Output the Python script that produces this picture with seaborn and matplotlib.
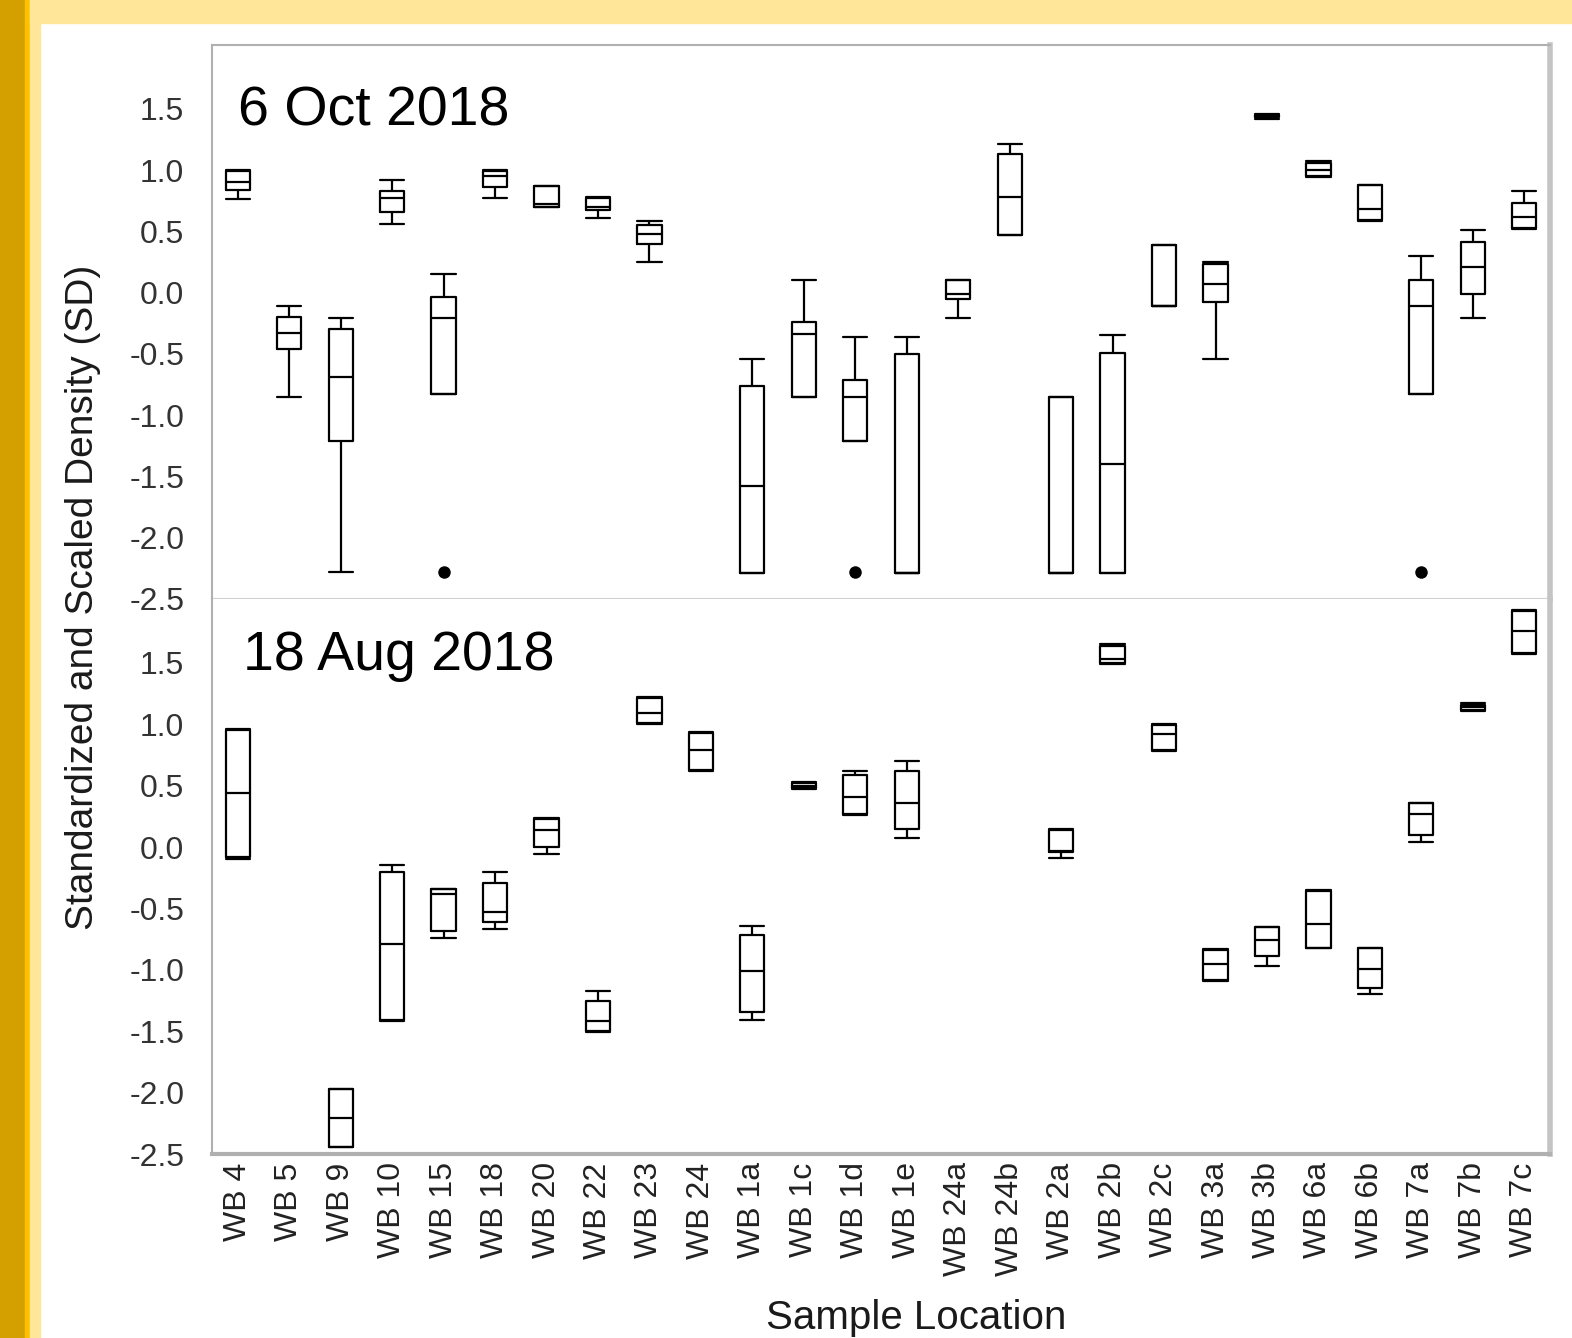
import numpy as np
import pandas as pd
import matplotlib
matplotlib.use("Agg")
import matplotlib.pyplot as plt
from matplotlib.patches import Rectangle
import seaborn as sns

# Sample locations along the shared x axis
locations = ["WB 4", "WB 5", "WB 9", "WB 10", "WB 15", "WB 18", "WB 20", "WB 22",
             "WB 23", "WB 24", "WB 1a", "WB 1c", "WB 1d", "WB 1e", "WB 24a", "WB 24b",
             "WB 2a", "WB 2b", "WB 2c", "WB 3a", "WB 3b", "WB 6a", "WB 6b", "WB 7a",
             "WB 7b", "WB 7c"]

# 6 Oct 2018: five-number summaries (lower whisker, Q1, median, Q3, upper whisker)
oct_lo  = [0.76, -0.85, -2.28, 0.56, -0.83, 0.77, 0.70, 0.61, 0.25, None, -2.29, -0.85,
           -1.21, -2.29, -0.21, 0.47, -2.29, -2.29, -0.11, -0.54, 1.42, 0.94, 0.58, -0.83,
           -0.21, 0.52]
oct_q1  = [0.84, -0.46, -1.21, 0.66, -0.83, 0.86, 0.70, 0.67, 0.40, None, -2.29, -0.85,
           -1.21, -2.29, -0.05, 0.47, -2.29, -2.29, -0.11, -0.08, 1.43, 0.95, 0.59, -0.83,
           -0.01, 0.53]
oct_med = [0.90, -0.33, -0.69, 0.77, -0.21, 0.95, 0.72, 0.70, 0.48, None, -1.58, -0.34,
           -0.85, -2.29, -0.01, 0.78, -2.29, -1.40, -0.11, 0.07, 1.44, 1.00, 0.68, -0.11,
           0.21, 0.62]
oct_q3  = [0.99, -0.20, -0.30, 0.83, -0.04, 0.99, 0.87, 0.77, 0.55, None, -0.76, -0.24,
           -0.71, -0.50, 0.10, 1.13, -0.85, -0.49, 0.39, 0.23, 1.45, 1.06, 0.88, 0.10,
           0.41, 0.73]
oct_hi  = [1.00, -0.11, -0.21, 0.92, 0.15, 1.00, 0.87, 0.78, 0.58, None, -0.54, 0.10,
           -0.36, -0.36, 0.10, 1.21, -0.85, -0.35, 0.39, 0.25, 1.46, 1.07, 0.88, 0.30,
           0.51, 0.83]
oct_outlier_loc = ["WB 15", "WB 1d", "WB 7a"]
oct_outlier_val = [-2.28, -2.28, -2.28]

# 18 Aug 2018
aug_lo  = [-0.10, None, -2.44, -1.42, -0.74, -0.67, -0.06, -1.51, 1.00, 0.62, -1.41, 0.47,
           0.26, 0.07, None, None, -0.09, 1.49, 0.78, -1.09, -0.97, -0.82, -1.20, 0.04,
           1.11, 1.57]
aug_q1  = [-0.08, None, -2.44, -1.41, -0.68, -0.61, 0.00, -1.50, 1.01, 0.63, -1.34, 0.48,
           0.27, 0.15, None, None, -0.04, 1.50, 0.79, -1.08, -0.89, -0.82, -1.15, 0.10,
           1.12, 1.58]
aug_med = [0.44, None, -2.21, -0.79, -0.38, -0.53, 0.14, -1.42, 1.09, 0.79, -1.01, 0.50,
           0.41, 0.36, None, None, -0.03, 1.53, 0.92, -0.95, -0.76, -0.63, -0.99, 0.27,
           1.14, 1.76]
aug_q3  = [0.95, None, -1.97, -0.20, -0.34, -0.29, 0.23, -1.25, 1.21, 0.93, -0.72, 0.52,
           0.59, 0.62, None, None, 0.14, 1.64, 0.99, -0.84, -0.65, -0.36, -0.82, 0.36,
           1.16, 1.92]
aug_hi  = [0.96, None, -1.97, -0.15, -0.34, -0.20, 0.24, -1.17, 1.22, 0.94, -0.64, 0.53,
           0.62, 0.70, None, None, 0.15, 1.65, 1.00, -0.83, -0.65, -0.35, -0.82, 0.36,
           1.17, 1.93]

date_top = "6 Oct 2018"
date_bottom = "18 Aug 2018"
ytick_values = [-2.5, -2.0, -1.5, -1.0, -0.5, 0.0, 0.5, 1.0, 1.5]


def long_form(lo, q1, med, q3, hi):
    rows = []
    for loc, five in zip(locations, zip(lo, q1, med, q3, hi)):
        if five[0] is None:
            continue
        for v in five:
            rows.append((loc, v))
    return pd.DataFrame(rows, columns=["location", "density"])


df_oct = long_form(oct_lo, oct_q1, oct_med, oct_q3, oct_hi)
df_aug = long_form(aug_lo, aug_q1, aug_med, aug_q3, aug_hi)

sns.set_style("white")
plt.rcParams["font.family"] = ["Liberation Sans", "DejaVu Sans"]

W, H = 1572, 1338
fig = plt.figure(figsize=(W / 100, H / 100), dpi=100)
fig.patch.set_facecolor("white")

# page border strips
fig.patches.extend([
    Rectangle((0, 0), 25 / W, 1, transform=fig.transFigure, color="#D4A000", zorder=0),
    Rectangle((25 / W, 0), 5 / W, 1, transform=fig.transFigure, color="#FFC000", zorder=0),
    Rectangle((30 / W, 0), 10 / W, 1, transform=fig.transFigure, color="#FFE699", zorder=0),
    Rectangle((30 / W, 1 - 23 / H), 1, 23 / H, transform=fig.transFigure, color="#FFE699", zorder=0),
])

left, right = 212 / W, 1550 / W
top_px, mid_px, bot_px = 45, 599, 1154
ax_top = fig.add_axes([left, 1 - mid_px / H, right - left, (mid_px - top_px) / H])
ax_bot = fig.add_axes([left, 1 - bot_px / H, right - left, (bot_px - mid_px) / H])

box_w = 0.47

for ax, df in [(ax_top, df_oct), (ax_bot, df_aug)]:
    sns.boxplot(data=df, x="location", y="density", order=locations, ax=ax,
                fill=False, color="black", linewidth=1.6, width=box_w,
                whis=np.inf, showfliers=False)
    # make whisker caps as wide as the boxes
    for line in ax.lines:
        x = np.asarray(line.get_xdata(), dtype=float)
        y = np.asarray(line.get_ydata(), dtype=float)
        if len(x) == 2 and y[0] == y[1] and abs(abs(x[1] - x[0]) - 0.5 * box_w) < 1e-6:
            c = x.mean()
            line.set_xdata([c - box_w / 2, c + box_w / 2])
    ax.set_xlim(-0.5, len(locations) - 0.5)
    ax.set_ylim(-2.5, 2.02)
    ax.set_yticks(ytick_values)
    ax.set_yticklabels([f"{v:.1f}" for v in ytick_values])
    ax.tick_params(axis="y", length=13, width=1.5, color="#a8a8a8", pad=7,
                   labelsize=23, labelcolor="#333333")
    ax.set_xlabel("")
    ax.set_ylabel("")
    for s in ax.spines.values():
        s.set_color("#b0b0b0")
        s.set_linewidth(1.5)

sns.stripplot(x=oct_outlier_loc, y=oct_outlier_val, order=locations, jitter=False,
              color="black", size=9, ax=ax_top)
ax_top.set_xlim(-0.5, len(locations) - 0.5)
ax_top.set_ylim(-2.5, 2.02)

ax_top.tick_params(axis="x", bottom=False, labelbottom=False)
ax_top.spines["bottom"].set_color("#d0d0d0")
ax_bot.spines["top"].set_visible(False)
for ax in (ax_top, ax_bot):
    ax.spines["right"].set_color("#c4c4c4")
    ax.spines["right"].set_linewidth(4)
ax_bot.spines["bottom"].set_linewidth(3)

ax_bot.set_xticks(range(len(locations)))
ax_bot.set_xticklabels(locations, rotation=90)
ax_bot.tick_params(axis="x", length=0, pad=6, labelsize=23, labelcolor="#222222")

ax_top.text(26 / 1338, 474 / 554, date_top, transform=ax_top.transAxes,
            fontsize=40, va="baseline", ha="left", color="black")
ax_bot.text(31 / 1338, 484 / 555, date_bottom, transform=ax_bot.transAxes,
            fontsize=40, va="baseline", ha="left", color="black")

fig.text(83 / W, 1 - 597 / H, "Standardized and Scaled Density (SD)", rotation=90,
         fontsize=28, ha="center", va="center", color="#1a1a1a")
fig.text(916 / W, 1 - 1329 / H, "Sample Location", fontsize=29, ha="center",
         va="baseline", color="#1a1a1a")

fig.savefig("out.png", dpi=100, facecolor="white")
